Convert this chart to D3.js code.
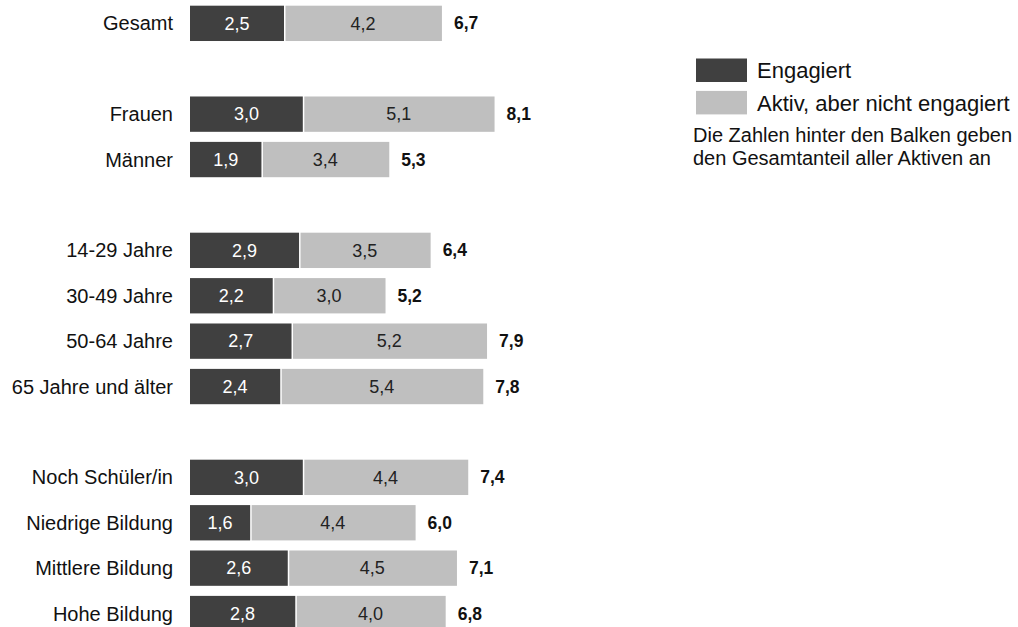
<!DOCTYPE html>
<html><head><meta charset="utf-8">
<script src="https://cdn.jsdelivr.net/npm/d3@7"></script>
<style>body{margin:0;background:#fff}svg{display:block}text{font-family:"Liberation Sans",Arial,sans-serif}</style>
</head><body>
<svg id="c" width="1018" height="627"></svg>
<script>
const slots = ["Gesamt","_g1","Frauen","Männer","_g2","14-29 Jahre","30-49 Jahre","50-64 Jahre","65 Jahre und älter","_g3","Noch Schüler/in","Niedrige Bildung","Mittlere Bildung","Hohe Bildung"];
const categories = ["Gesamt","Frauen","Männer","14-29 Jahre","30-49 Jahre","50-64 Jahre","65 Jahre und älter","Noch Schüler/in","Niedrige Bildung","Mittlere Bildung","Hohe Bildung"];
const engagiert = [2.5,3.0,1.9,2.9,2.2,2.7,2.4,3.0,1.6,2.6,2.8];
const aktiv     = [4.2,5.1,3.4,3.5,3.0,5.2,5.4,4.4,4.4,4.5,4.0];
const gesamt    = [6.7,8.1,5.3,6.4,5.2,7.9,7.8,7.4,6.0,7.1,6.8];
const seriesNames = ["Engagiert","Aktiv, aber nicht engagiert"];
const noteLines = ["Die Zahlen hinter den Balken geben","den Gesamtanteil aller Aktiven an"];
const colors = ["#404040","#bfbfbf"];

const svg = d3.select("#c");
const x = d3.scaleLinear().domain([0,1]).range([190,227.6]);
const y = d3.scaleBand().domain(slots).range([0.65,636.25]).paddingInner(0.222).paddingOuter(0.111);
const fmt = v => v.toFixed(1).replace(".",",");

const rows = categories.map((c,i)=>({c, e:engagiert[i], a:aktiv[i], t:gesamt[i]}));
const g = svg.append("g");
rows.forEach(r=>{
  const y0 = y(r.c), h = y.bandwidth();
  g.append("rect").attr("x",x(0)).attr("y",y0).attr("width",x(r.e)-x(0)).attr("height",h).attr("fill",colors[0]);
  g.append("rect").attr("x",x(r.e)+1.5).attr("y",y0).attr("width",x(r.e+r.a)-x(r.e)-1.5).attr("height",h).attr("fill",colors[1]);
  const cy = y0+h/2;
  g.append("text").attr("x",(x(0)+x(r.e))/2).attr("y",cy).attr("dy","0.35em").attr("text-anchor","middle").attr("fill","#fff").style("font-size","18px").text(fmt(r.e));
  g.append("text").attr("x",(x(r.e)+x(r.e+r.a))/2).attr("y",cy).attr("dy","0.35em").attr("text-anchor","middle").attr("fill","#222").style("font-size","18px").text(fmt(r.a));
  g.append("text").attr("x",x(r.t)+12).attr("y",cy).attr("dy","0.35em").attr("fill","#111").style("font-size","17.5px").style("font-weight","bold").text(fmt(r.t));
  g.append("text").attr("x",173).attr("y",cy).attr("dy","0.35em").attr("text-anchor","end").attr("fill","#111").style("font-size","20px").text(r.c);
});

const lg = svg.append("g");
seriesNames.forEach((s,i)=>{
  lg.append("rect").attr("x",696).attr("y",58.5+i*32.4).attr("width",51).attr("height",23.5).attr("fill",colors[i]);
  lg.append("text").attr("x",757).attr("y",70.5+i*32.4).attr("dy","0.35em").attr("fill","#111").style("font-size","22px").text(s);
});
noteLines.forEach((t,i)=>{
  lg.append("text").attr("x",693).attr("y",135+i*23).attr("dy","0.35em").attr("fill","#111").style("font-size","20px").text(t);
});
</script>
</body></html>
